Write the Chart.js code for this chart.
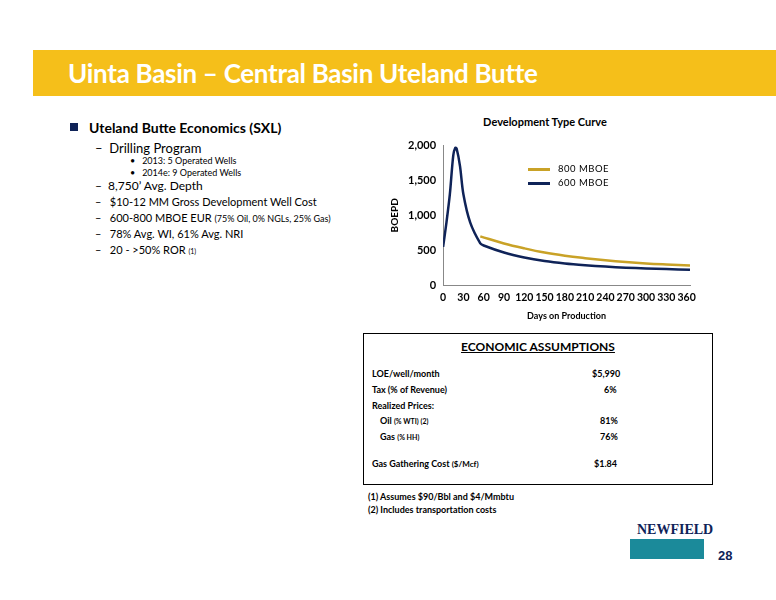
<!DOCTYPE html>
<html><head><meta charset="utf-8">
<script src="https://cdn.jsdelivr.net/npm/chart.js@4"></script>
<style>
body{margin:0;width:776px;height:600px;position:relative;background:#fff;font-family:Lato,"Noto Sans",sans-serif;overflow:hidden}
.banner{position:absolute;left:33px;top:50px;width:743px;height:46px;background:#F5BF1A}
.title{position:absolute;left:68px;top:57px;font-size:26px;font-weight:bold;color:#fff;letter-spacing:-0.3px}
.l1{position:absolute;white-space:nowrap}
#wrap{position:absolute;left:380px;top:110px;width:330px;height:215px}
.ct{position:absolute;left:380px;top:115px;width:330px;text-align:center;font-size:11px;font-weight:bold}
.leg{position:absolute;left:528px;font-size:9.5px;letter-spacing:0.5px}
.leg span{display:inline-block;width:22px;height:3px;vertical-align:middle;margin-right:8px}
.box{position:absolute;left:363px;top:333px;width:350px;height:152px;border:1px solid #000;box-sizing:border-box;font-size:9px;font-weight:bold}
.box div{position:absolute;white-space:nowrap}
.fn{position:absolute;left:368px;font-size:9px;font-weight:bold}
</style></head><body>
<div class="banner"></div>
<div class="title">Uinta Basin – Central Basin Uteland Butte</div>
<div class="l1" style="left:70px;top:123px;width:8px;height:8px;background:#0F2358"></div>
<div class="l1" style="left:89px;top:119px;font-size:14px;font-weight:bold">Uteland Butte Economics (SXL)</div>
<div class="l1" style="left:95px;top:140px;font-size:13px">–&nbsp;&nbsp;Drilling Program</div>
<div class="l1" style="left:130px;top:155px;font-size:9px">•&nbsp;&nbsp;&nbsp;2013: 5 Operated Wells</div>
<div class="l1" style="left:130px;top:167px;font-size:9px">•&nbsp;&nbsp;&nbsp;2014e: 9 Operated Wells</div>
<div class="l1" style="left:95px;top:178px;font-size:12px">–&nbsp;&nbsp;8,750’ Avg. Depth</div>
<div class="l1" style="left:95px;top:195px;font-size:11px">–&nbsp;&nbsp;&nbsp;$10-12 MM Gross Development Well Cost</div>
<div class="l1" style="left:95px;top:211px;font-size:11px">–&nbsp;&nbsp;&nbsp;600-800 MBOE EUR <span style="font-size:9px">(75% Oil, 0% NGLs, 25% Gas)</span></div>
<div class="l1" style="left:95px;top:227px;font-size:11px">–&nbsp;&nbsp;&nbsp;78% Avg. WI, 61% Avg. NRI</div>
<div class="l1" style="left:95px;top:243px;font-size:11px">–&nbsp;&nbsp;&nbsp;20 - &gt;50% ROR <span style="font-size:7px">(1)</span></div>
<div class="ct">Development Type Curve</div>
<div id="wrap"><canvas id="c" width="330" height="215" style="width:330px;height:215px"></canvas></div>
<div class="leg" style="top:163px"><span style="background:#C9A227"></span>800 MBOE</div>
<div class="leg" style="top:177px"><span style="background:#0F2358"></span>600 MBOE</div>
<div class="box">
<div style="left:0;width:100%;text-align:center;top:5px;font-size:12px;text-decoration:underline">ECONOMIC ASSUMPTIONS</div>
<div style="left:8px;top:34px">LOE/well/month</div><div style="left:228px;top:34px">$5,990</div>
<div style="left:8px;top:50px">Tax (% of Revenue)</div><div style="left:240px;top:50px">6%</div>
<div style="left:8px;top:66px">Realized Prices:</div>
<div style="left:16px;top:81px">Oil <span style="font-size:7px">(% WTI) (2)</span></div><div style="left:236px;top:81px">81%</div>
<div style="left:16px;top:97px">Gas <span style="font-size:7px">(% HH)</span></div><div style="left:236px;top:97px">76%</div>
<div style="left:8px;top:124px">Gas Gathering Cost <span style="font-size:8px">($/Mcf)</span></div><div style="left:230px;top:124px">$1.84</div>
</div>
<div class="fn" style="top:491px">(1) Assumes $90/Bbl and $4/Mmbtu</div>
<div class="fn" style="top:504px">(2) Includes transportation costs</div>
<div style="position:absolute;left:637px;top:522px;font-family:'Liberation Serif',serif;font-size:14px;font-weight:bold;color:#0F2358">NEWFIELD</div>
<div style="position:absolute;left:630px;top:539px;width:74px;height:20px;background:#1B8A9A"></div>
<div style="position:absolute;left:718px;top:548px;font-family:'Liberation Sans',sans-serif;font-size:13px;font-weight:bold;color:#0F2358">28</div>
<script>
const days600=[0,5,10,15,18,20,25,30,40,55,60,90,120,150,180,210,240,270,300,330,365];
const boe600=[550,900,1300,1850,1960,1950,1700,1300,900,600,570,470,400,350,315,290,270,255,245,235,225];
const days800=[55,90,120,150,180,210,240,270,300,330,365];
const boe800=[700,600,530,470,425,390,360,335,315,300,285];
const xTicks=[0,30,60,90,120,150,180,210,240,270,300,330,360];
const pts=(x,y)=>x.map((v,i)=>({x:v,y:y[i]}));
new Chart(document.getElementById('c'),{type:'line',
data:{datasets:[
{label:'800 MBOE',data:pts(days800,boe800),borderColor:'#C9A227',borderWidth:2.5,pointRadius:0,tension:0.4},
{label:'600 MBOE',data:pts(days600,boe600),borderColor:'#0F2358',borderWidth:2.5,pointRadius:0,tension:0.3}]},
options:{responsive:false,animation:false,maintainAspectRatio:false,
layout:{padding:{top:35,right:20,left:5,bottom:0}},
plugins:{legend:{display:false},tooltip:{enabled:false}},
scales:{x:{type:'linear',min:0,max:365,afterBuildTicks:a=>{a.ticks=xTicks.map(v=>({value:v}))},
 grid:{display:false,drawTicks:true,tickLength:4,color:'#888'},border:{color:'#888'},
 ticks:{color:'#000',font:{family:'Lato',size:10.5,weight:'bold'},maxRotation:0,autoSkip:false,padding:2},
 title:{display:true,text:'Days on Production',color:'#000',font:{family:'Lato',size:9,weight:'bold'}}},
y:{min:0,max:2000,ticks:{stepSize:500,color:'#000',font:{family:'Lato',size:11,weight:'bold'},callback:v=>v.toLocaleString('en-US')},
 grid:{display:false,tickLength:4},border:{color:'#888'},
 title:{display:true,text:'BOEPD',color:'#000',font:{family:'Lato',size:10,weight:'bold'}}}}}});
</script>
</body></html>
